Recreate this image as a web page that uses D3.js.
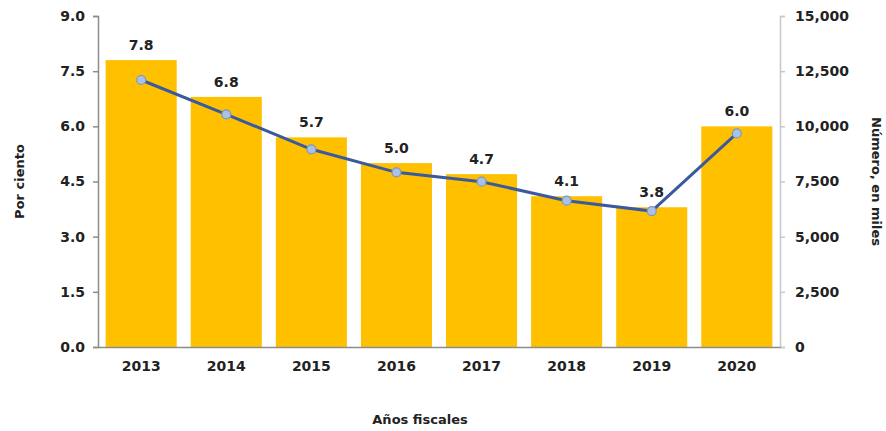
<!DOCTYPE html>
<html>
<head>
<meta charset="utf-8">
<script src="https://cdn.jsdelivr.net/npm/d3@7"></script>
<style>
  body { margin: 0; background: #fff; }
  svg text { font-family: 'DejaVu Sans', sans-serif; font-weight: 700; fill: #222; }
</style>
</head>
<body>
<div id="chart"></div>
<script>
const years = ['2013', '2014', '2015', '2016', '2017', '2018', '2019', '2020'];
const percent = [7.8, 6.8, 5.7, 5.0, 4.7, 4.1, 3.8, 6.0];
const thousands = [12100, 10545, 8960, 7915, 7490, 6630, 6160, 9680];
const leftTicks = [0, 1.5, 3, 4.5, 6, 7.5, 9];
const rightTicks = [0, 2500, 5000, 7500, 10000, 12500, 15000];

const width = 886, height = 431;
const margin = {top: 16, right: 106, bottom: 84, left: 98};
const fontFam = "'DejaVu Sans', sans-serif";

const svg = d3.select('#chart').append('svg')
  .attr('width', width)
  .attr('height', height);

const x = d3.scaleBand()
  .domain(years)
  .range([margin.left, width - margin.right])
  .paddingInner(0.165)
  .paddingOuter(0.09);

const yLeft = d3.scaleLinear().domain([0, 9]).range([height - margin.bottom, margin.top]);
const yRight = d3.scaleLinear().domain([0, 15000]).range([height - margin.bottom, margin.top]);

// bars
svg.append('g').selectAll('rect')
  .data(percent)
  .enter().append('rect')
  .attr('x', (v, i) => x(years[i]))
  .attr('y', v => yLeft(v))
  .attr('width', x.bandwidth())
  .attr('height', v => yLeft(0) - yLeft(v))
  .style('fill', '#FFC000');

// bar labels
svg.append('g').selectAll('text')
  .data(percent)
  .enter().append('text')
  .attr('x', (v, i) => x(years[i]) + x.bandwidth() / 2)
  .attr('y', v => yLeft(v) - 10)
  .attr('text-anchor', 'middle')
  .style('font-size', '14px')
  .text(v => v.toFixed(1));

// left axis
svg.append('g')
  .attr('class', 'yaxis')
  .attr('transform', `translate(${margin.left}, 0)`)
  .call(d3.axisLeft(yLeft).tickValues(leftTicks).tickSize(5).tickPadding(8).tickFormat(d3.format('.1f')))
  .call(g => g.selectAll('path, line').style('stroke', '#8c8c8c').style('stroke-width', 1.5))
  .call(g => g.selectAll('text').style('font-size', '14px').style('font-family', fontFam));

// right axis
svg.append('g')
  .attr('class', 'yaxis2')
  .attr('transform', `translate(${width - margin.right}, 0)`)
  .call(d3.axisRight(yRight).tickValues(rightTicks).tickSize(5).tickPadding(10).tickFormat(d3.format(',')))
  .call(g => g.selectAll('path, line').style('stroke', '#c8c8c8').style('stroke-width', 1.5))
  .call(g => g.selectAll('text').style('font-size', '14px').style('font-family', fontFam));

// bottom axis
svg.append('g')
  .attr('class', 'xaxis')
  .attr('transform', `translate(0, ${height - margin.bottom})`)
  .call(d3.axisBottom(x).tickSize(0).tickPadding(14))
  .call(g => g.select('path').style('stroke', '#8c8c8c').style('stroke-width', 1.5))
  .call(g => g.selectAll('text').style('font-size', '14px').style('font-family', fontFam));

// line
const line = d3.line()
  .x((v, i) => x(years[i]) + x.bandwidth() / 2)
  .y(v => yRight(v));

svg.append('path')
  .datum(thousands)
  .attr('d', line)
  .style('fill', 'none')
  .style('stroke', '#3A5A9E')
  .style('stroke-width', 3);

svg.append('g').selectAll('circle')
  .data(thousands)
  .enter().append('circle')
  .attr('cx', (v, i) => x(years[i]) + x.bandwidth() / 2)
  .attr('cy', v => yRight(v))
  .attr('r', 4.5)
  .style('fill', '#A9C1E6')
  .style('stroke', '#7E95C2')
  .style('stroke-width', 1.2);

// axis titles
svg.append('text')
  .attr('transform', `translate(24, ${(margin.top + height - margin.bottom) / 2}) rotate(-90)`)
  .attr('text-anchor', 'middle')
  .style('font-size', '13px')
  .text('Por ciento');

svg.append('text')
  .attr('transform', `translate(872, ${(margin.top + height - margin.bottom) / 2}) rotate(90)`)
  .attr('text-anchor', 'middle')
  .style('font-size', '13px')
  .text('Número, en miles');

svg.append('text')
  .attr('x', 420)
  .attr('y', 424)
  .attr('text-anchor', 'middle')
  .style('font-size', '13px')
  .text('Años fiscales');
</script>
</body>
</html>
